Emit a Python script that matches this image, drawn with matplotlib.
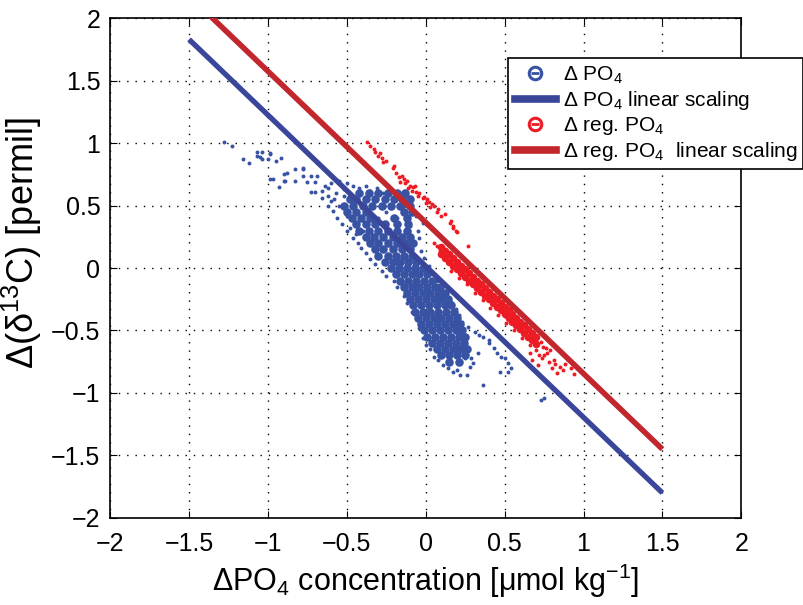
import matplotlib
matplotlib.use('Agg')
import matplotlib.pyplot as plt
from matplotlib.lines import Line2D

plt.rcParams['font.family'] = ['Liberation Sans', 'DejaVu Sans']
plt.rcParams['mathtext.fontset'] = 'custom'
plt.rcParams['mathtext.rm'] = 'Liberation Sans'
plt.rcParams['mathtext.it'] = 'Liberation Sans:italic'

# scattered blue points (delta PO4)
blue_x = [-1.28, -1.23, -1.16, -1.12, -1.07, -1.07, -1.04, -1.05, -1.04, -1.00, -0.99, -0.95, -0.92,
          -0.99, -0.97, -0.93, -0.90, -0.88, -0.90, -0.89, -0.83, -0.83, -0.78, -0.78, -0.73, -0.75,
          -0.73, -0.70, -0.70, -0.69, -0.99, -0.78,
          -0.66, -0.64, -0.62, -0.60, -0.58, -0.62, -0.59, -0.56, -0.53, -0.50, -0.48, -0.46, -0.43,
          -0.41, -0.38, -0.35, -0.32, -0.28, -0.25, -0.20, -0.18, -0.14, -0.12, -0.09, -0.05, -0.04,
          -0.02, 0.00, 0.03, 0.05, 0.08, 0.11, 0.14, 0.17, 0.20, 0.22, 0.26, 0.28, 0.30, 0.29, 0.27,
          -0.55, -0.50, -0.46, -0.42, -0.38, -0.35, -0.31, -0.27, -0.23, -0.20, -0.16, -0.14, -0.10,
          -0.10, -0.08, -0.06, -0.10, -0.05, -0.02, -0.04, -0.03, -0.01, 0.02, 0.04, 0.07, 0.10, 0.13,
          0.16, 0.19, 0.21,
          0.19, 0.23, 0.27, 0.31, 0.34, 0.365, 0.40, 0.43, 0.40, 0.45, 0.48, 0.50, 0.52, 0.54, 0.52,
          0.47, 0.36, 0.73, 0.75, 0.25, 0.33,
          -0.45, -0.40, -0.52, -0.33, -0.25, -0.30, -0.40, -0.35, -0.28, -0.20, -0.25, -0.18, -0.14,
          -0.62, -0.57, -0.52, -0.60, -0.55, -0.48, -0.66, -0.50, -0.44]
blue_y = [1.01, 0.98, 0.87, 0.84, 0.93, 0.90, 0.93, 0.89, 0.87, 0.87, 0.91, 0.86, 0.88,
          0.71, 0.71, 0.65, 0.75, 0.76, 0.70, 0.70, 0.79, 0.70, 0.79, 0.74, 0.74, 0.69,
          0.61, 0.61, 0.69, 0.74, 0.92, 0.80,
          0.62, 0.66, 0.58, 0.68, 0.55, 0.50, 0.46, 0.40, 0.35, 0.30, 0.32, 0.24, 0.20,
          0.16, 0.12, 0.07, 0.03, -0.02, -0.06, -0.10, -0.15, -0.22, -0.28, -0.35, -0.42, -0.48,
          -0.56, -0.62, -0.65, -0.71, -0.74, -0.78, -0.80, -0.83, -0.82, -0.86, -0.86, -0.79, -0.76,
          -0.72, -0.66,
          0.70, 0.68, 0.66, 0.64, 0.66, 0.62, 0.64, 0.60, 0.62, 0.60, 0.60, 0.57, 0.56,
          0.53, 0.46, 0.42, 0.34, 0.30, 0.36, 0.24, 0.14, 0.08, 0.02, -0.05, -0.10, -0.15, -0.20,
          -0.27, -0.33, -0.38,
          -0.39, -0.43, -0.47, -0.51, -0.54, -0.55, -0.60, -0.64, -0.58, -0.68, -0.71, -0.72, -0.76,
          -0.80, -0.83, -0.83, -0.94, -1.06, -1.04, -0.72, -0.68,
          0.55, 0.52, 0.58, 0.55, 0.45, 0.40, 0.30, 0.20, 0.15, 0.05, 0.30, 0.40, 0.50,
          0.64, 0.60, 0.63, 0.54, 0.50, 0.58, 0.56, 0.42, 0.27]

# dense part of the blue cloud, row by row
blue_core_x = [-0.42, -0.36, -0.30, -0.24, -0.18, -0.13,
               -0.48, -0.44, -0.38, -0.32, -0.26, -0.20, -0.15, -0.10,
               -0.52, -0.46, -0.40, -0.34, -0.28, -0.22, -0.16, -0.10,
               -0.50, -0.44, -0.38, -0.14, -0.09,
               -0.47, -0.41, -0.35, -0.20, -0.12,
               -0.44, -0.38, -0.32, -0.26, -0.18, -0.11,
               -0.42, -0.36, -0.30, -0.24, -0.18, -0.12,
               -0.38, -0.33, -0.27, -0.21, -0.15, -0.10,
               -0.35, -0.30, -0.24, -0.18, -0.12, -0.08,
               -0.32, -0.27, -0.21, -0.15, -0.10,
               -0.30, -0.24, -0.19, -0.14, -0.09,
               -0.26, -0.21, -0.16, -0.11, -0.06,
               -0.22, -0.17, -0.12, -0.07, -0.02,
               -0.19, -0.14, -0.09, -0.04, 0.01,
               -0.16, -0.11, -0.06, -0.01, 0.04,
               -0.14, -0.09, -0.04, 0.01, 0.06, 0.09,
               -0.12, -0.07, -0.02, 0.03, 0.08, 0.12,
               -0.10, -0.05, 0.00, 0.05, 0.10, 0.14,
               -0.08, -0.03, 0.02, 0.07, 0.12, 0.16,
               -0.07, -0.02, 0.03, 0.08, 0.13, 0.18,
               -0.05, 0.00, 0.05, 0.10, 0.15, 0.20,
               -0.03, 0.02, 0.07, 0.12, 0.17, 0.22,
               -0.01, 0.04, 0.09, 0.14, 0.19, 0.23,
               0.01, 0.06, 0.11, 0.16, 0.21, 0.25,
               0.04, 0.09, 0.14, 0.19, 0.24,
               0.07, 0.12, 0.17, 0.22, 0.26,
               0.10, 0.15, 0.20, 0.25,
               0.15, 0.21]
blue_core_y = [0.60, 0.60, 0.60, 0.60, 0.60, 0.60,
               0.55, 0.55, 0.55, 0.55, 0.55, 0.55, 0.55, 0.55,
               0.50, 0.50, 0.50, 0.50, 0.50, 0.50, 0.50, 0.50,
               0.45, 0.45, 0.45, 0.45, 0.45,
               0.40, 0.40, 0.40, 0.40, 0.40,
               0.35, 0.35, 0.35, 0.35, 0.35, 0.35,
               0.30, 0.30, 0.30, 0.30, 0.30, 0.30,
               0.25, 0.25, 0.25, 0.25, 0.25, 0.25,
               0.20, 0.20, 0.20, 0.20, 0.20, 0.20,
               0.15, 0.15, 0.15, 0.15, 0.15,
               0.10, 0.10, 0.10, 0.10, 0.10,
               0.05, 0.05, 0.05, 0.05, 0.05,
               0.00, 0.00, 0.00, 0.00, 0.00,
               -0.05, -0.05, -0.05, -0.05, -0.05,
               -0.10, -0.10, -0.10, -0.10, -0.10,
               -0.15, -0.15, -0.15, -0.15, -0.15, -0.15,
               -0.20, -0.20, -0.20, -0.20, -0.20, -0.20,
               -0.25, -0.25, -0.25, -0.25, -0.25, -0.25,
               -0.30, -0.30, -0.30, -0.30, -0.30, -0.30,
               -0.35, -0.35, -0.35, -0.35, -0.35, -0.35,
               -0.40, -0.40, -0.40, -0.40, -0.40, -0.40,
               -0.45, -0.45, -0.45, -0.45, -0.45, -0.45,
               -0.50, -0.50, -0.50, -0.50, -0.50, -0.50,
               -0.55, -0.55, -0.55, -0.55, -0.55, -0.55,
               -0.60, -0.60, -0.60, -0.60, -0.60,
               -0.65, -0.65, -0.65, -0.65, -0.65,
               -0.70, -0.70, -0.70, -0.70,
               -0.75, -0.75]

# scattered red points (delta reg. PO4)
red_x = [-0.37, -0.35, -0.33, -0.32, -0.30, -0.29, -0.28, -0.27, -0.25, -0.21, -0.20, -0.19, -0.17,
         -0.16, -0.15, -0.13, -0.12, -0.11, -0.09, -0.08, -0.05, -0.04, -0.02, 0.00, 0.01, 0.03,
         0.05, 0.07, 0.08, 0.10, 0.12, 0.155, 0.16, 0.17, 0.17, 0.19, 0.20, 0.27, 0.07, 0.05, 0.09,
         0.14, 0.12, 0.10, -0.14, -0.10, -0.06, -0.01, 0.04, 0.02, -0.07,
         0.18, 0.23, 0.28, 0.33, 0.38, 0.43, 0.48, 0.53, 0.58, 0.63, 0.68,
         0.16, 0.21, 0.26, 0.31, 0.36, 0.41, 0.46, 0.51, 0.56, 0.61, 0.66,
         0.675, 0.71, 0.77, 0.81, 0.85, 0.83, 0.90, 0.745, 0.73, 0.70, 0.75, 0.79, 0.80, 0.87, 0.92,
         0.94, 0.72, 0.78, 0.66, 0.69, 0.76, 0.82, 0.88, 0.74]
red_y = [1.01, 0.98, 0.95, 0.93, 0.90, 0.92, 0.88, 0.85, 0.86, 0.80, 0.82, 0.76, 0.73,
         0.69, 0.74, 0.68, 0.70, 0.64, 0.62, 0.65, 0.58, 0.60, 0.56, 0.52, 0.55, 0.49,
         0.50, 0.45, 0.47, 0.42, 0.43, 0.36, 0.38, 0.32, 0.34, 0.30, 0.29, 0.18, 0.18, 0.20, 0.14,
         0.12, 0.15, 0.11, 0.71, 0.66, 0.61, 0.57, 0.51, 0.53, 0.66,
         0.08, 0.02, -0.04, -0.10, -0.16, -0.22, -0.28, -0.34, -0.40, -0.46, -0.52,
         -0.02, -0.08, -0.13, -0.20, -0.26, -0.32, -0.38, -0.44, -0.50, -0.56, -0.62,
         -0.74, -0.78, -0.68, -0.74, -0.79, -0.84, -0.74, -0.63, -0.59, -0.66, -0.70, -0.66, -0.80,
         -0.82, -0.80, -0.85, -0.70, -0.75, -0.68, -0.62, -0.64, -0.77, -0.77, -0.72]

# dense red band, two rows
red_core_x = [0.10, 0.125, 0.15, 0.175, 0.20, 0.225, 0.25, 0.275, 0.30, 0.325, 0.35, 0.375, 0.40,
              0.425, 0.45, 0.475, 0.50, 0.525, 0.55, 0.575, 0.60, 0.625, 0.65, 0.675, 0.70,
              0.10, 0.125, 0.15, 0.175, 0.20, 0.225, 0.25, 0.275, 0.30, 0.325, 0.35, 0.375, 0.40,
              0.425, 0.45, 0.475, 0.50, 0.525, 0.55, 0.575, 0.60, 0.625, 0.65, 0.675, 0.70]
red_core_y = [0.17, 0.14, 0.11, 0.08, 0.05, 0.02, -0.01, -0.04, -0.07, -0.10, -0.13, -0.16, -0.19,
              -0.22, -0.25, -0.28, -0.31, -0.34, -0.37, -0.40, -0.43, -0.46, -0.49, -0.52, -0.55,
              0.11, 0.08, 0.05, 0.02, -0.01, -0.04, -0.07, -0.10, -0.13, -0.16, -0.19, -0.22, -0.25,
              -0.28, -0.31, -0.34, -0.37, -0.40, -0.43, -0.46, -0.49, -0.52, -0.55, -0.58, -0.61]

# linear scaling lines
line_x = [-1.5, 1.5]
blue_line_y = [1.83, -1.80]
red_line_y = [2.18, -1.45]

blue_pts = '#3953a4'
red_pts = '#ed1c24'
blue_ln = '#3a469a'
red_ln = '#c1272d'

fig = plt.figure(figsize=(8.04, 6.05), dpi=100)
ax = fig.add_axes([0.137, 0.144, 0.785, 0.826])

ax.scatter(blue_core_x, blue_core_y, s=38, color=blue_pts, linewidths=0, zorder=2)
ax.scatter(blue_x, blue_y, s=8, color=blue_pts, linewidths=0, zorder=2)
ax.scatter(red_core_x, red_core_y, s=30, color=red_pts, linewidths=0, zorder=3)
ax.scatter(red_x, red_y, s=8, color=red_pts, linewidths=0, zorder=3)
ax.plot(line_x, blue_line_y, color=blue_ln, lw=3.8, solid_capstyle='butt', zorder=4)
ax.plot(line_x, red_line_y, color=red_ln, lw=4.0, solid_capstyle='butt', zorder=5)

ax.set_xlim(-2, 2)
ax.set_ylim(-2, 2)
ticks = [-2, -1.5, -1, -0.5, 0, 0.5, 1, 1.5, 2]
labels = ['\u22122', '\u22121.5', '\u22121', '\u22120.5', '0', '0.5', '1', '1.5', '2']
ax.set_xticks(ticks)
ax.set_xticklabels(labels)
ax.set_yticks(ticks)
ax.set_yticklabels(labels)
ax.tick_params(direction='in', top=True, right=True, labelsize=18, length=5)
ax.tick_params(axis='x', pad=10)
ax.tick_params(axis='y', pad=7)
ax.grid(True, color='black', linestyle=(0, (1, 5)), linewidth=1.0)
for sp in ax.spines.values():
    sp.set_linewidth(1.2)

ax.set_xlabel('\u0394PO$_4$ concentration [\u03bcmol kg$^{-1}$]', fontsize=22, labelpad=4)
ax.set_ylabel('\u0394(\u03b4$^{13}$C) [permil]', fontsize=26)
ax.yaxis.set_label_coords(-0.105, 0.55)

ring_b = Line2D([], [], linestyle='none', marker='o', markersize=9, markerfacecolor='none',
                markeredgecolor=blue_pts, markeredgewidth=2.2)
bar_b = Line2D([], [], linestyle='none', marker='_', markersize=6, markeredgecolor=blue_pts,
               markeredgewidth=2.0)
ring_r = Line2D([], [], linestyle='none', marker='o', markersize=9, markerfacecolor='none',
                markeredgecolor=red_pts, markeredgewidth=2.2)
bar_r = Line2D([], [], linestyle='none', marker='_', markersize=6, markeredgecolor=red_pts,
               markeredgewidth=2.0)
handles = [(ring_b, bar_b), Line2D([], [], color=blue_ln, lw=5.5),
           (ring_r, bar_r), Line2D([], [], color=red_ln, lw=5.5)]
names = ['\u0394 PO$_4$', '\u0394 PO$_4$ linear scaling',
         '\u0394 reg. PO$_4$', '\u0394 reg. PO$_4$  linear scaling']
leg = ax.legend(handles, names, loc='upper left', bbox_to_anchor=(0.631, 0.92), borderaxespad=0,
                fontsize=15, fancybox=False, framealpha=1, edgecolor='black',
                handlelength=2.0, handletextpad=0.3, labelspacing=0.15, borderpad=0.3)
leg.get_frame().set_linewidth(1.2)

fig.savefig('out.png', dpi=100)
